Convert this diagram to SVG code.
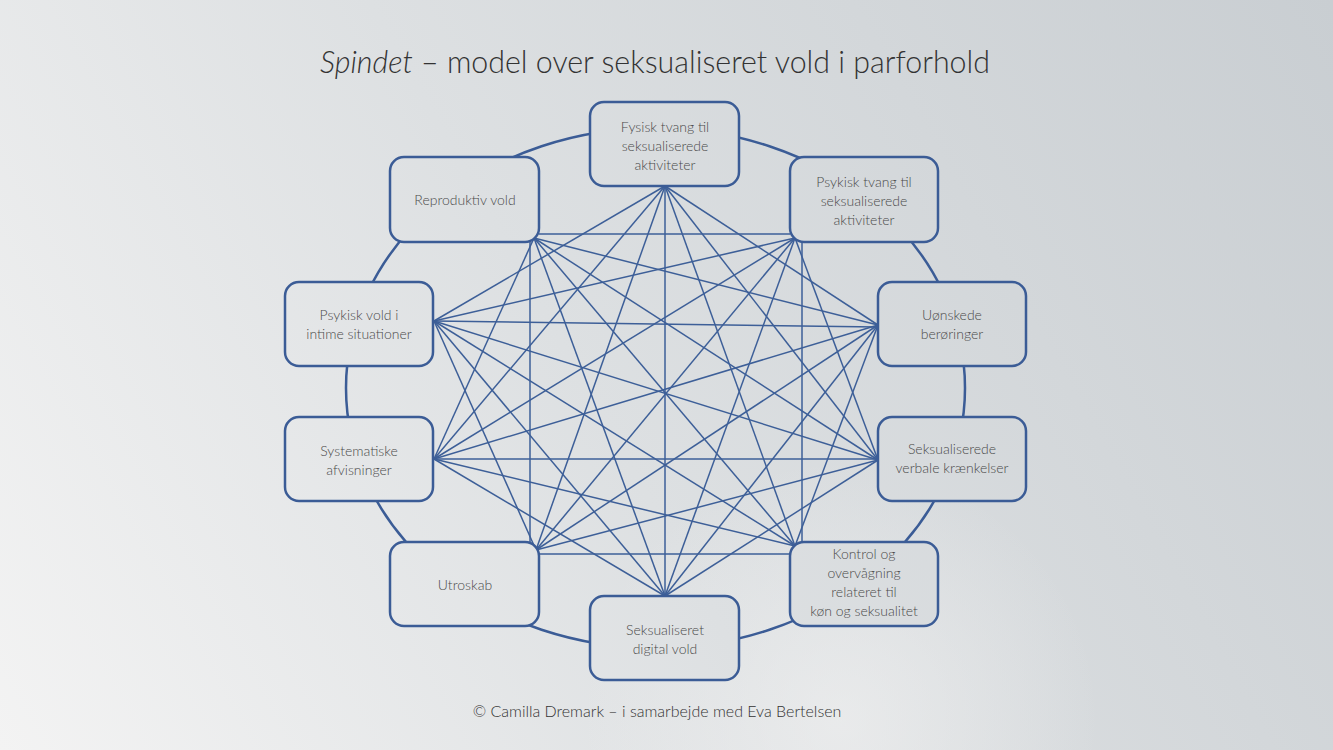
<svg xmlns="http://www.w3.org/2000/svg" width="1333" height="750" viewBox="0 0 1333 750">
  <defs>
    <linearGradient id="bg" gradientUnits="userSpaceOnUse" x1="0" y1="750" x2="1333" y2="0">
      <stop offset="0" stop-color="#f3f3f3"/>
      <stop offset="0.45" stop-color="#dde0e2"/>
      <stop offset="1" stop-color="#c9ced2"/>
    </linearGradient>
    <radialGradient id="glow" gradientUnits="userSpaceOnUse" cx="840" cy="720" r="260">
      <stop offset="0" stop-color="#f2f2f2" stop-opacity="0.6"/>
      <stop offset="1" stop-color="#f2f2f2" stop-opacity="0"/>
    </radialGradient>
    <style>
      .box { fill: url(#bg); stroke: #3b5c96; stroke-width: 2.5; }
      .lbl { font-family: Lato, "Liberation Sans", sans-serif; font-weight: 300; font-size: 14px; fill: #4a4a4a; text-anchor: middle; }
      .ln { stroke: #3d5f98; stroke-width: 1.5; fill: none; }
      .ring { stroke: #3b5c96; stroke-width: 2.5; fill: none; }
    </style>
  </defs>
  <rect x="0" y="0" width="1333" height="750" fill="url(#bg)"/>
  <rect x="0" y="0" width="1333" height="750" fill="url(#glow)"/>

  <text x="655" y="73" font-family="Lato, 'Liberation Sans', sans-serif" font-weight="300" font-size="32" fill="#333" text-anchor="middle" textLength="670" lengthAdjust="spacingAndGlyphs"><tspan font-style="italic">Spindet</tspan> – model over seksualiseret vold i parforhold</text>

  <g id="connectors">
    <ellipse class="ring" cx="655.5" cy="388" rx="309.5" ry="260"/>
    <!-- F -->
    <line class="ln" x1="665" y1="186" x2="878" y2="325"/>
    <line class="ln" x1="665" y1="186" x2="878" y2="460"/>
    <line class="ln" x1="665" y1="186" x2="795" y2="546"/>
    <line class="ln" x1="665" y1="186" x2="665" y2="596"/>
    <line class="ln" x1="665" y1="186" x2="536" y2="550"/>
    <line class="ln" x1="665" y1="186" x2="434" y2="459"/>
    <line class="ln" x1="665" y1="186" x2="434" y2="321"/>
    <!-- PT -->
    <line class="ln" x1="539" y1="234" x2="790" y2="234"/>
    <line class="ln" x1="795" y1="238" x2="878" y2="460"/>
    <line class="ln" x1="802" y1="242" x2="802" y2="542"/>
    <line class="ln" x1="795" y1="238" x2="665" y2="596"/>
    <line class="ln" x1="795" y1="238" x2="536" y2="550"/>
    <line class="ln" x1="795" y1="238" x2="434" y2="459"/>
    <line class="ln" x1="795" y1="238" x2="434" y2="321"/>
    <!-- R -->
    <line class="ln" x1="534" y1="238" x2="878" y2="325"/>
    <line class="ln" x1="534" y1="238" x2="878" y2="460"/>
    <line class="ln" x1="534" y1="238" x2="795" y2="546"/>
    <line class="ln" x1="534" y1="238" x2="665" y2="596"/>
    <line class="ln" x1="530" y1="242" x2="530" y2="542"/>
    <line class="ln" x1="534" y1="238" x2="434" y2="459"/>
    <!-- U -->
    <line class="ln" x1="878" y1="325" x2="795" y2="546"/>
    <line class="ln" x1="878" y1="325" x2="665" y2="596"/>
    <line class="ln" x1="878" y1="325" x2="536" y2="550"/>
    <line class="ln" x1="878" y1="325" x2="434" y2="459"/>
    <line class="ln" x1="878" y1="327" x2="434" y2="321"/>
    <!-- V -->
    <line class="ln" x1="878" y1="460" x2="665" y2="596"/>
    <line class="ln" x1="878" y1="460" x2="536" y2="550"/>
    <line class="ln" x1="878" y1="459" x2="434" y2="459"/>
    <line class="ln" x1="878" y1="460" x2="434" y2="321"/>
    <!-- K -->
    <line class="ln" x1="539" y1="554" x2="790" y2="554"/>
    <line class="ln" x1="795" y1="546" x2="434" y2="459"/>
    <line class="ln" x1="795" y1="546" x2="434" y2="321"/>
    <!-- D -->
    <line class="ln" x1="665" y1="596" x2="434" y2="459"/>
    <line class="ln" x1="665" y1="596" x2="434" y2="321"/>
    <!-- UT -->
    <line class="ln" x1="536" y1="550" x2="434" y2="321"/>
  </g>

  <g id="node-fysisk">
    <rect class="box" x="590" y="102" width="149" height="84" rx="14"/>
    <text class="lbl" x="665" y="132">Fysisk tvang til</text>
    <text class="lbl" x="665" y="151">seksualiserede</text>
    <text class="lbl" x="665" y="170">aktiviteter</text>
  </g>
  <g id="node-psykisk-tvang">
    <rect class="box" x="790" y="157" width="148" height="85" rx="14"/>
    <text class="lbl" x="864" y="187">Psykisk tvang til</text>
    <text class="lbl" x="864" y="206">seksualiserede</text>
    <text class="lbl" x="864" y="225">aktiviteter</text>
  </g>
  <g id="node-reproduktiv">
    <rect class="box" x="390" y="157" width="149" height="85" rx="14"/>
    <text class="lbl" x="465" y="205">Reproduktiv vold</text>
  </g>
  <g id="node-psykisk-vold">
    <rect class="box" x="285" y="282" width="148" height="84" rx="14"/>
    <text class="lbl" x="359" y="320">Psykisk vold i</text>
    <text class="lbl" x="359" y="339">intime situationer</text>
  </g>
  <g id="node-uonskede">
    <rect class="box" x="878" y="282" width="148" height="84" rx="14"/>
    <text class="lbl" x="952" y="320">Uønskede</text>
    <text class="lbl" x="952" y="339">berøringer</text>
  </g>
  <g id="node-systematiske">
    <rect class="box" x="285" y="417" width="148" height="84" rx="14"/>
    <text class="lbl" x="359" y="456">Systematiske</text>
    <text class="lbl" x="359" y="475">afvisninger</text>
  </g>
  <g id="node-verbale">
    <rect class="box" x="878" y="417" width="148" height="84" rx="14"/>
    <text class="lbl" x="952" y="454">Seksualiserede</text>
    <text class="lbl" x="952" y="473">verbale krænkelser</text>
  </g>
  <g id="node-utroskab">
    <rect class="box" x="390" y="542" width="149" height="84" rx="14"/>
    <text class="lbl" x="465" y="590">Utroskab</text>
  </g>
  <g id="node-kontrol">
    <rect class="box" x="790" y="542" width="148" height="84" rx="14"/>
    <text class="lbl" x="864" y="559">Kontrol og</text>
    <text class="lbl" x="864" y="578">overvågning</text>
    <text class="lbl" x="864" y="597">relateret til</text>
    <text class="lbl" x="864" y="616">køn og seksualitet</text>
  </g>
  <g id="node-digital">
    <rect class="box" x="590" y="596" width="149" height="84" rx="14"/>
    <text class="lbl" x="665" y="635">Seksualiseret</text>
    <text class="lbl" x="665" y="654">digital vold</text>
  </g>

  <text x="657" y="717" font-family="Lato, 'Liberation Sans', sans-serif" font-weight="300" font-size="16" fill="#333" text-anchor="middle">© Camilla Dremark – i samarbejde med Eva Bertelsen</text>
</svg>
